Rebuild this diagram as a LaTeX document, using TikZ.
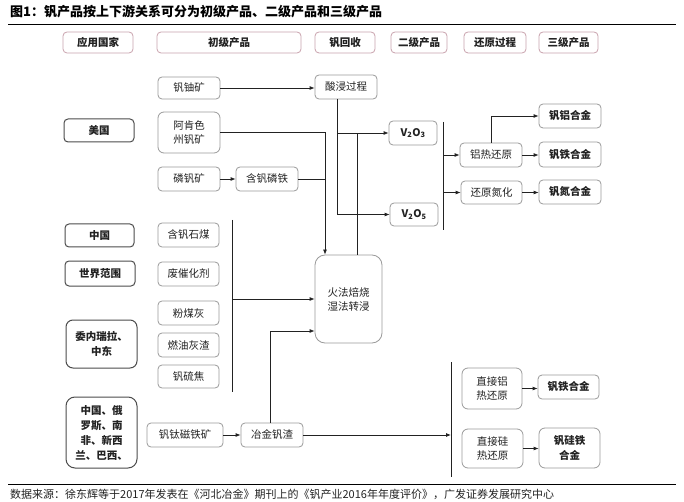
\documentclass[tikz,border=0pt]{standalone}
\usepackage{fontspec}
\setmainfont{Noto Sans CJK SC}
\usetikzlibrary{arrows.meta,calc}
\definecolor{boxgray}{HTML}{9A9A9A}
\definecolor{hdrcol}{HTML}{C9A3AE}
\definecolor{ink}{HTML}{222222}
\begin{document}
\begin{tikzpicture}[x=1pt,y=-1pt,
  box/.style={draw=boxgray, rounded corners=4pt, line width=0.8pt, inner sep=1pt,
    align=center, text=ink, font=\fontsize{10.5}{14}\selectfont},
  hdr/.style={box, draw=hdrcol, minimum height=21pt, font=\fontsize{10.5}{14}\selectfont\bfseries},
  cty/.style={box, draw=black!70, line width=1pt, font=\fontsize{10.5}{15}\selectfont\bfseries},
  prod/.style={box, draw=boxgray, font=\fontsize{10.5}{15}\selectfont\bfseries},
  conn/.style={line width=0.8pt, draw=ink},
  arr/.style={conn, -{Latex[length=5pt,width=4pt]}}]
\useasboundingbox (0,0) rectangle (684,502);
\fill[white] (0,0) rectangle (684,502);
% title
\node[anchor=west, inner sep=0, font=\fontsize{13}{15}\selectfont\bfseries] (title) at (10,12) {图1：钒产品按上下游关系可分为初级产品、二级产品和三级产品};
\draw[line width=0.9pt] (8,24) coordinate (tl) -- (676,24) coordinate (tr);
% headers
\node[hdr, minimum width=70pt] (h1) at (98,42.5) {应用国家};
\node[hdr, minimum width=144pt] (h2) at (229,42.5) {初级产品};
\node[hdr, minimum width=60pt] (h3) at (345,42.5) {钒回收};
\node[hdr, minimum width=56pt] (h4) at (419,42.5) {二级产品};
\node[hdr, minimum width=62pt] (h5) at (495,42.5) {还原过程};
\node[hdr, minimum width=59pt] (h6) at (568.5,42.5) {三级产品};
% countries
\node[cty, minimum width=70pt, minimum height=23pt] (us) at (99,130.5) {美国};
\node[cty, minimum width=69pt, minimum height=23pt] (cn) at (99.5,235.5) {中国};
\node[cty, minimum width=70pt, minimum height=25pt] (world) at (100,273.5) {世界范围};
\node[cty, minimum width=71pt, minimum height=48pt, rounded corners=7pt] (ven) at (101.5,344) {委内瑞拉、\\中东};
\node[cty, minimum width=71pt, minimum height=71pt, rounded corners=9pt] (multi) at (101.5,432.5) {中国、俄\\罗斯、南\\非、新西\\兰、巴西、};
% primary
\node[box, minimum width=62pt, minimum height=22pt] (vu) at (189,88) {钒铀矿};
\node[box, minimum width=62pt, minimum height=41pt, rounded corners=6pt] (ark) at (189,132.5) {阿肯色\\州钒矿};
\node[box, minimum width=62pt, minimum height=24pt] (pv) at (189,179) {磷钒矿};
\node[box, minimum width=62pt, minimum height=24pt] (fep) at (267,179) {含钒磷铁};
\node[box, minimum width=61pt, minimum height=24pt] (coal) at (188.5,235) {含钒石煤};
\node[box, minimum width=61pt, minimum height=24pt] (cat) at (188.5,274) {废催化剂};
\node[box, minimum width=61pt, minimum height=24pt] (fly) at (188.5,313) {粉煤灰};
\node[box, minimum width=61pt, minimum height=24pt] (oil) at (188.5,345) {燃油灰渣};
\node[box, minimum width=61pt, minimum height=23pt] (coke) at (188.5,376.5) {钒硫焦};
\node[box, minimum width=76pt, minimum height=24pt] (ti) at (185,435) {钒钛磁铁矿};
\node[box, minimum width=62pt, minimum height=24pt] (slag) at (272,435) {冶金钒渣};
% recovery
\node[box, minimum width=62pt, minimum height=24pt] (acid) at (346,87) {酸浸过程};
\node[box, minimum width=67pt, minimum height=88pt, rounded corners=10pt] (fire) at (348.5,299) {火法焙烧\\湿法转浸};
% secondary
\node[prod, minimum width=48pt, minimum height=24pt, font=\fontsize{10.5}{14}\selectfont\bfseries] (v2o3) at (413,133) {V\textsubscript{2}O\textsubscript{3}};
\node[prod, minimum width=48pt, minimum height=23pt, font=\fontsize{10.5}{14}\selectfont\bfseries] (v2o5) at (414,214.5) {V\textsubscript{2}O\textsubscript{5}};
% reduction
\node[box, minimum width=62pt, minimum height=24pt] (al) at (491,155) {铝热还原};
\node[box, minimum width=61pt, minimum height=23pt] (nit) at (491.5,192.5) {还原氮化};
\node[box, minimum width=60pt, minimum height=41pt, rounded corners=6pt] (dal) at (492,388.5) {直接铝\\热还原};
\node[box, minimum width=61pt, minimum height=39pt, rounded corners=6pt] (dsi) at (492.5,448.5) {直接硅\\热还原};
% tertiary
\node[prod, minimum width=62pt, minimum height=24pt] (val) at (570,116) {钒铝合金};
\node[prod, minimum width=62pt, minimum height=25pt] (vfe) at (570,154.5) {钒铁合金};
\node[prod, minimum width=62pt, minimum height=24pt] (vn) at (570,192) {钒氮合金};
\node[prod, minimum width=61pt, minimum height=24pt] (vfe2) at (568.5,387) {钒铁合金};
\node[prod, minimum width=61pt, minimum height=40pt, rounded corners=6pt] (vsife) at (569.5,448) {钒硅铁\\合金};
% coordinates
\coordinate (j1) at (325,133);
\coordinate (a1) at (337,99);
\coordinate (f1) at (357,255);
\coordinate (b1t) at (443,122);
\coordinate (b1b) at (443,230);
\coordinate (c1t) at (232,220);
\coordinate (c1b) at (232,392);
\coordinate (s1) at (270,423);
\coordinate (b2t) at (451,362);
\coordinate (b2b) at (451,477);
% connectors
\draw[arr] (vu.east) -- (vu.east -| acid.west);
\draw[arr] (ark.east) -| (j1 |- fire.north);
\draw[conn] (fep.east) -- (fep.east -| j1);
\draw[arr] (pv) -- (fep);
\draw[arr] (a1) |- (v2o5.west);
\draw[arr] (a1 |- v2o3.west) -- (v2o3.west);
\draw[conn] (f1) -- (f1 |- v2o3.west);
\draw[conn] (b1t) -- (b1b);
\draw[arr] (b1t |- al.west) -- (al.west);
\draw[arr] (b1t |- nit.west) -- (nit.west);
\draw[arr] (al.north) |- (val.west);
\draw[arr] (al) -- (al -| vfe.west);
\draw[arr] (nit) -- (nit -| vn.west);
\draw[conn] (c1t) -- (c1b);
\draw[arr] (c1t |- fire.west) -- (fire.west);
\draw[arr] (s1) |- (fire.west |- 0,331);
\draw[arr] (ti) -- (slag);
\draw[conn] (b2t) -- (b2b);
\draw[arr] (slag.east) -- (slag.east -| b2t);
\draw[arr] (dal.east) -- (dal.east -| vfe2.west);
\draw[arr] (dsi.east) -- (dsi.east -| vsife.west);
% footer
\draw[line width=0.9pt] (8,484) coordinate (bl) -- (676,484) coordinate (br);
\node[anchor=west, inner sep=0, font=\fontsize{11}{13}\selectfont, text=ink] (src) at (10,494) {数据来源：徐东辉等于2017年发表在《河北冶金》期刊上的《钒产业2016年年度评价》，广发证券发展研究中心};
\end{tikzpicture}
\end{document}
